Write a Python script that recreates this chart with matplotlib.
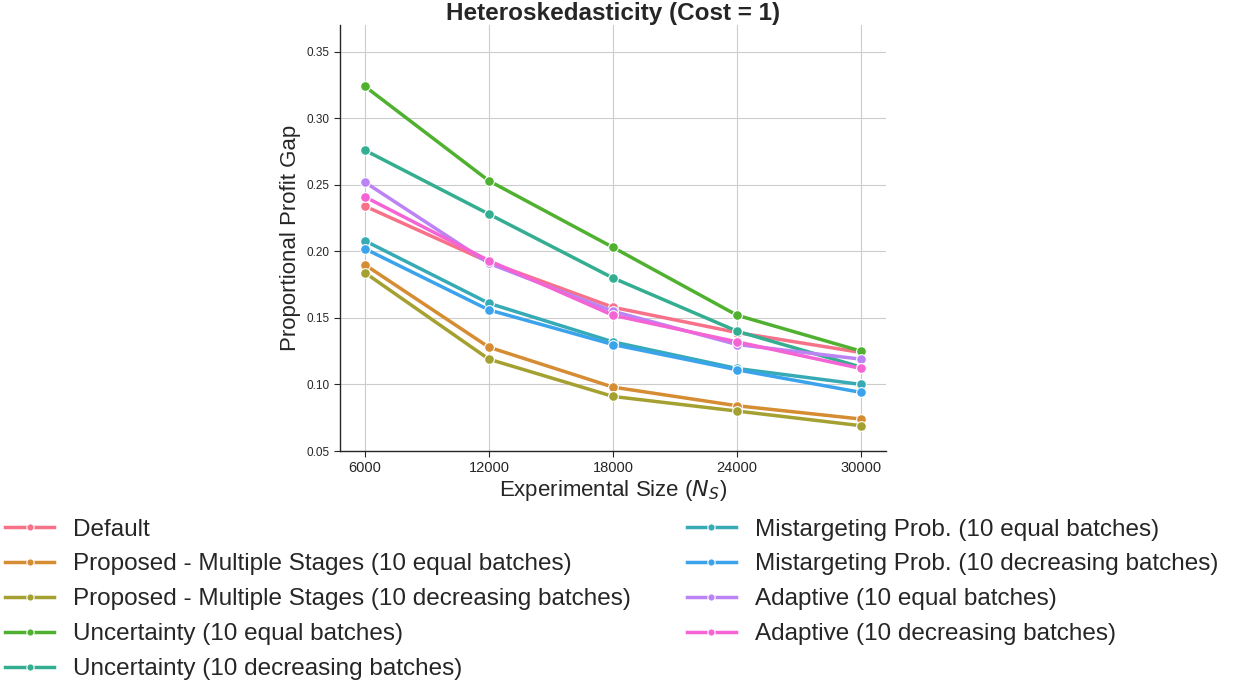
import matplotlib
matplotlib.use("Agg")
import matplotlib.pyplot as plt
import seaborn as sns

# experimental sizes and proportional profit gap per method
sizes = [6000, 12000, 18000, 24000, 30000]
methods = [
    "Default",
    "Proposed - Multiple Stages (10 equal batches)",
    "Proposed - Multiple Stages (10 decreasing batches)",
    "Uncertainty (10 equal batches)",
    "Uncertainty (10 decreasing batches)",
    "Mistargeting Prob. (10 equal batches)",
    "Mistargeting Prob. (10 decreasing batches)",
    "Adaptive (10 equal batches)",
    "Adaptive (10 decreasing batches)",
]
default = [0.234, 0.192, 0.158, 0.139, 0.124]
proposed_equal = [0.190, 0.128, 0.098, 0.084, 0.074]
proposed_decr = [0.184, 0.119, 0.091, 0.080, 0.069]
uncert_equal = [0.324, 0.253, 0.203, 0.152, 0.125]
uncert_decr = [0.276, 0.228, 0.180, 0.140, 0.113]
mistarg_equal = [0.208, 0.161, 0.132, 0.112, 0.100]
mistarg_decr = [0.202, 0.156, 0.130, 0.111, 0.094]
adaptive_equal = [0.252, 0.191, 0.155, 0.130, 0.119]
adaptive_decr = [0.241, 0.193, 0.152, 0.132, 0.112]

series = [default, proposed_equal, proposed_decr, uncert_equal, uncert_decr,
          mistarg_equal, mistarg_decr, adaptive_equal, adaptive_decr]

plt.rcParams['font.family'] = ['Liberation Sans', 'DejaVu Sans']
palette = sns.color_palette("husl", len(methods))
dark = '#262626'

fig = plt.figure(figsize=(12.34, 6.87), dpi=100)
ax = fig.add_axes([0.2755, 0.3435, 0.4425, 0.62])

for name, vals, col in zip(methods, series, palette):
    ax.plot(sizes, vals, color=col, lw=2.5, marker='o', markersize=7,
            markeredgecolor='white', markeredgewidth=0.8, label=name)

ax.set_ylim(0.05, 0.37)
ax.set_xticks(sizes)
ax.set_yticks([0.05, 0.10, 0.15, 0.20, 0.25, 0.30, 0.35])
ax.set_yticklabels(["0.05", "0.10", "0.15", "0.20", "0.25", "0.30", "0.35"])
ax.grid(True, color='#cccccc', lw=0.8)
ax.set_axisbelow(True)
for side in ['top', 'right']:
    ax.spines[side].set_visible(False)
for side in ['left', 'bottom']:
    ax.spines[side].set_color(dark)
    ax.spines[side].set_linewidth(1.0)
ax.tick_params(axis='y', labelsize=8.5, colors=dark, length=4)
ax.tick_params(axis='x', labelsize=10.5, colors=dark, length=4)
ax.set_xlabel("Experimental Size ($N_S$)", fontsize=16, color=dark, labelpad=2)
ax.set_ylabel("Proportional Profit Gap", fontsize=16, color=dark)
ax.set_title("Heteroskedasticity (Cost = 1)", fontsize=17.5, fontweight='bold',
             color=dark, pad=4)

fig.legend(loc='upper left', bbox_to_anchor=(-0.0135, 0.277), ncol=2, frameon=False,
           fontsize=17.5, markerscale=0.75, handlelength=2.0, columnspacing=2.3,
           labelspacing=0.53, labelcolor=dark)

fig.savefig("out.png", dpi=100)
